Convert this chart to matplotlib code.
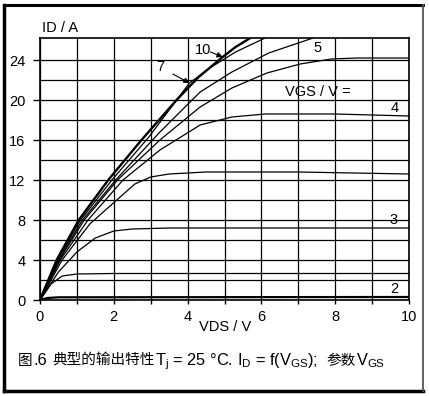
import matplotlib
matplotlib.use("Agg")
import matplotlib.pyplot as plt
from matplotlib.lines import Line2D

plt.rcParams['font.family'] = ['Liberation Sans', 'Noto Sans CJK SC', 'DejaVu Sans']
plt.rcParams['mathtext.fontset'] = 'custom'
plt.rcParams['mathtext.rm'] = 'Liberation Sans'

# Output characteristics: VDS (V) -> ID (A)
vds_10 = [0, 0.45, 1.05, 1.85, 2.75, 3.7, 4.3, 4.95, 5.3, 5.7]
id_10 = [0, 4.0, 8.0, 12.0, 16.0, 20.0, 22.3, 24.3, 25.3, 26.2]

vds_7 = [0, 0.47, 1.1, 1.95, 2.95, 4.05, 4.6, 5.3, 6.1]
id_7 = [0, 4.0, 8.0, 12.0, 16.3, 21.7, 23.2, 24.8, 26.2]

vds_5 = [0, 0.5, 1.15, 2.05, 3.25, 4.34, 5.2, 6.2, 7.4]
id_5 = [0, 4.0, 8.0, 12.0, 16.8, 20.8, 22.8, 24.7, 26.2]

vds_45 = [0, 0.52, 1.2, 2.1, 3.25, 4.34, 5.2, 6.15, 7.05, 7.9, 8.6, 10]
id_45 = [0, 4.0, 8.0, 12.0, 16.0, 19.3, 21.2, 22.7, 23.6, 24.1, 24.2, 24.2]

vds_4 = [0, 0.55, 1.3, 2.25, 3.25, 4.34, 5.2, 6.1, 8.0, 10]
id_4 = [0, 4.0, 8.0, 12.0, 15.0, 17.5, 18.3, 18.6, 18.6, 18.4]

vds_35 = [0, 0.6, 1.35, 2.08, 2.57, 3.0, 3.5, 4.5, 7.0, 10]
id_35 = [0, 4.0, 7.6, 10.0, 11.6, 12.3, 12.6, 12.8, 12.8, 12.6]

vds_3 = [0, 0.5, 1.0, 1.5, 2.0, 2.5, 3.5, 10]
id_3 = [0, 2.8, 4.8, 6.2, 6.9, 7.1, 7.2, 7.2]

vds_25 = [0, 0.3, 0.6, 1.0, 2.0, 10]
id_25 = [0, 1.6, 2.4, 2.6, 2.65, 2.65]

vds_2 = [0, 0.2, 0.5, 10]
id_2 = [0, 0.2, 0.27, 0.3]

curves = [
    (vds_10, id_10, 1.7),
    (vds_7, id_7, 0.9),
    (vds_5, id_5, 0.9),
    (vds_45, id_45, 0.9),
    (vds_4, id_4, 0.9),
    (vds_35, id_35, 0.9),
    (vds_3, id_3, 0.9),
    (vds_25, id_25, 0.9),
    (vds_2, id_2, 1.6),
]

x_major = [0, 2, 4, 6, 8, 10]
x_minor = [1, 3, 5, 7, 9]
y_major = [0, 4, 8, 12, 16, 20, 24]
y_minor = [2, 6, 10, 14, 18, 22]

fig = plt.figure(figsize=(4.29, 3.96), dpi=100)
ax = fig.add_axes([40 / 429, 1 - 300 / 396, 369 / 429, 262 / 396])

for vx, iy, lw in curves:
    ax.plot(vx, iy, color='black', linewidth=lw, solid_capstyle='butt')

ax.set_xlim(0, 10)
ax.set_ylim(0, 26.2)
ax.set_xticks(x_major)
ax.set_xticks(x_minor, minor=True)
ax.set_yticks(y_major)
ax.set_yticks(y_minor, minor=True)
ax.grid(True, which='both', color='black', linewidth=0.9)
ax.set_axisbelow(True)
ax.tick_params(axis='x', which='major', length=3, width=1, pad=4, labelsize=10.5)
ax.tick_params(axis='x', which='minor', length=3, width=1)
ax.tick_params(axis='y', which='major', length=5, width=1, pad=5.5, labelsize=10.5)
ax.tick_params(axis='y', which='minor', length=0)
for s in ax.spines.values():
    s.set_linewidth(1.2)

ax.text(0.05, 26.5, 'ID / A', fontsize=10.5, ha='left', va='bottom')
ax.text(6.64, 20.8, 'VGS / V =', fontsize=10.5, ha='left', va='center')
ax.text(4.42, 25.0, '10', fontsize=10.5, ha='center', va='center')
ax.text(7.53, 25.2, '5', fontsize=10.5, ha='center', va='center')
ax.text(9.62, 19.2, '4', fontsize=10.5, ha='center', va='center')
ax.text(9.57, 8.0, '3', fontsize=10.5, ha='center', va='center')
ax.text(9.6, 1.1, '2', fontsize=10.5, ha='center', va='center')
ax.annotate('7', xy=(4.05, 21.7), xytext=(3.25, 23.3), fontsize=10.5,
            ha='center', va='center',
            arrowprops=dict(arrowstyle='-|>', color='black', lw=0.8,
                            mutation_scale=8, shrinkA=5, shrinkB=0))
ax.annotate('', xy=(4.95, 24.3), xytext=(4.62, 24.8),
            arrowprops=dict(arrowstyle='-|>', color='black', lw=0.8,
                            mutation_scale=8, shrinkA=0, shrinkB=0))

fig.text(225 / 429, 1 - 327 / 396, 'VDS / V', fontsize=10.5, ha='center', va='center')

# caption: CJK and Latin pieces placed one after another on one baseline
cjk = ['Noto Sans CJK SC', 'DejaVu Sans']
lat = ['Liberation Sans']
caption_parts = [
    ('图', cjk, 10.5, 1),
    ('.6', lat, 11.8, 5),
    ('典型的输出特性', cjk, 10.5, 0),
    ('T$_\\mathregular{j}$ = 25 °C. I$_\\mathregular{D}$ = f(V$_\\mathregular{GS}$);',
     lat, 11.8, 9),
    ('参数', cjk, 10.5, 0),
    ('V$_\\mathregular{GS}$', lat, 11.8, 0),
]
renderer = fig.canvas.get_renderer()
x_cur = 18
base_y = 1 - 365 / 396
for s, fam, fs, gap in caption_parts:
    t = fig.text(x_cur / 429, base_y, s, fontsize=fs, family=fam,
                 ha='left', va='baseline')
    x_cur = t.get_window_extent(renderer).x1 + gap

# outer frame
def px(x, y):
    return x / 429, 1 - y / 396

for (x0, y0), (x1, y1), lw, c in [
    ((4, 5), (423, 5), 2.2, 'black'),
    ((4, 391), (423, 391), 2.5, 'black'),
    ((4, 5), (4, 391), 2.5, 'black'),
    ((422.5, 5), (422.5, 391), 1.3, '#555555'),
]:
    a, b = px(x0, y0)
    c1, d = px(x1, y1)
    fig.add_artist(Line2D([a, c1], [b, d], color=c, linewidth=lw))

fig.savefig('out.png', dpi=100)
